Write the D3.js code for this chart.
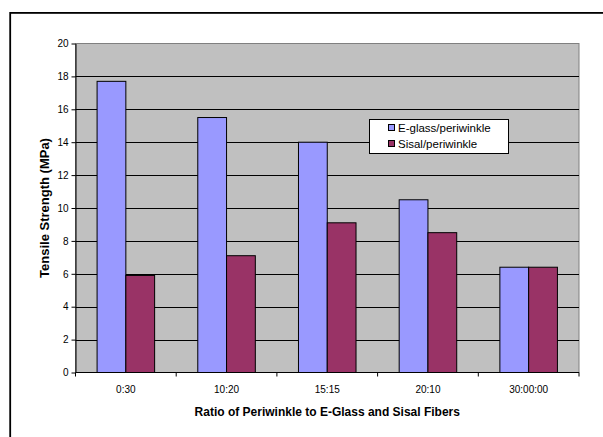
<!DOCTYPE html>
<html>
<head>
<meta charset="utf-8">
<script src="https://cdn.jsdelivr.net/npm/d3@7/dist/d3.min.js"></script>
<style>
  html, body { margin: 0; padding: 0; background: #fff; }
  svg { display: block; font-family: "Liberation Sans", Arial, sans-serif; }
</style>
</head>
<body>
<svg id="chart" width="603" height="437"></svg>
<script>
// Tensile strength by fibre ratio
const categories = ["0:30", "10:20", "15:15", "20:10", "30:00:00"];
const seriesNames = ["E-glass/periwinkle", "Sisal/periwinkle"];
const eglass = [17.7, 15.5, 14.0, 10.5, 6.4];
const sisal = [5.9, 7.1, 9.1, 8.5, 6.4];
const yTicks = [0, 2, 4, 6, 8, 10, 12, 14, 16, 18, 20];
const colors = ["#9999FF", "#993366"];

const svg = d3.select("#chart");
const plot = { left: 75.5, right: 579, top: 43.5, bottom: 372.5 };

// Outer chart frame (continues past the right and bottom edges)
svg.append("rect")
  .attr("x", 10.2).attr("y", 12.9)
  .attr("width", 800).attr("height", 600)
  .attr("fill", "none").attr("stroke", "#000").attr("stroke-width", 1.8);

const x = d3.scaleBand().domain(categories).range([plot.left, plot.right]);
const y = d3.scaleLinear().domain([0, 20]).range([plot.bottom, plot.top]);

// Plot background
svg.append("rect")
  .attr("x", plot.left).attr("y", plot.top)
  .attr("width", plot.right - plot.left).attr("height", plot.bottom - plot.top)
  .attr("fill", "#C0C0C0").attr("stroke", "#808080").attr("stroke-width", 1);

// Gridlines
svg.append("g").selectAll("line")
  .data(yTicks.filter(t => t > 0 && t < 20))
  .join("line")
  .attr("x1", plot.left).attr("x2", plot.right)
  .attr("y1", d => Math.round(y(d)) + 0.5).attr("y2", d => Math.round(y(d)) + 0.5)
  .attr("stroke", "#000").attr("stroke-width", 1);

// Bars: gap width 150% of a bar, two bars per category
const barW = x.bandwidth() / 3.5;
const rows = categories.map((c, i) => ({ c, vals: [eglass[i], sisal[i]] }));
const groups = svg.append("g").selectAll("g")
  .data(rows).join("g");
groups.selectAll("rect")
  .data(d => d.vals.map((v, k) => ({ c: d.c, v, k })))
  .join("rect")
  .attr("x", d => x(d.c) + x.bandwidth() / 2 - barW + d.k * barW)
  .attr("y", d => y(d.v))
  .attr("width", barW)
  .attr("height", d => y(0) - y(d.v))
  .attr("fill", d => colors[d.k])
  .attr("stroke", "#000").attr("stroke-width", 1);

// Y axis
const yAxis = d3.axisLeft(y).tickValues(yTicks).tickSize(4).tickSizeOuter(0).tickPadding(3);
const gy = svg.append("g").attr("transform", `translate(${plot.left},0)`).call(yAxis);
gy.select(".domain").attr("stroke", "#000");
gy.selectAll("text").attr("font-size", 10).attr("fill", "#000")
  .attr("font-family", "Liberation Sans, Arial, sans-serif");

// X axis: ticks at category boundaries, labels centred in each band
const gx = svg.append("g").attr("transform", `translate(0,${plot.bottom})`);
gx.append("line").attr("x1", plot.left).attr("x2", plot.right)
  .attr("y1", 0).attr("y2", 0).attr("stroke", "#000");
const bounds = categories.map(c => x(c)).concat([plot.right]);
gx.selectAll("line.tick").data(bounds).join("line").attr("class", "tick")
  .attr("x1", d => d).attr("x2", d => d).attr("y1", 0).attr("y2", 4)
  .attr("stroke", "#000");
gx.selectAll("text").data(categories).join("text")
  .attr("x", d => x(d) + x.bandwidth() / 2)
  .attr("y", 20)
  .attr("text-anchor", "middle")
  .attr("font-size", 10)
  .text(d => d);

// Axis titles
svg.append("text")
  .attr("x", (plot.left + plot.right) / 2).attr("y", 416)
  .attr("text-anchor", "middle").attr("font-size", 12).attr("font-weight", "bold")
  .text("Ratio of Periwinkle to E-Glass and Sisal Fibers");
svg.append("text")
  .attr("transform", `translate(49,${(plot.top + plot.bottom) / 2}) rotate(-90)`)
  .attr("text-anchor", "middle").attr("font-size", 13).attr("font-weight", "bold")
  .text("Tensile Strength (MPa)");

// Legend
const lg = svg.append("g");
lg.append("rect").attr("x", 369.5).attr("y", 119.5).attr("width", 139).attr("height", 34)
  .attr("fill", "#fff").attr("stroke", "#000").attr("stroke-width", 1);
seriesNames.forEach((name, i) => {
  const cy = 128 + i * 16;
  lg.append("rect").attr("x", 388.5).attr("y", cy - 3.5).attr("width", 6).attr("height", 6)
    .attr("fill", colors[i]).attr("stroke", "#000").attr("stroke-width", 1);
  lg.append("text").attr("x", 398).attr("y", cy + 4)
    .attr("font-size", 11.5).text(name);
});
</script>
</body>
</html>
